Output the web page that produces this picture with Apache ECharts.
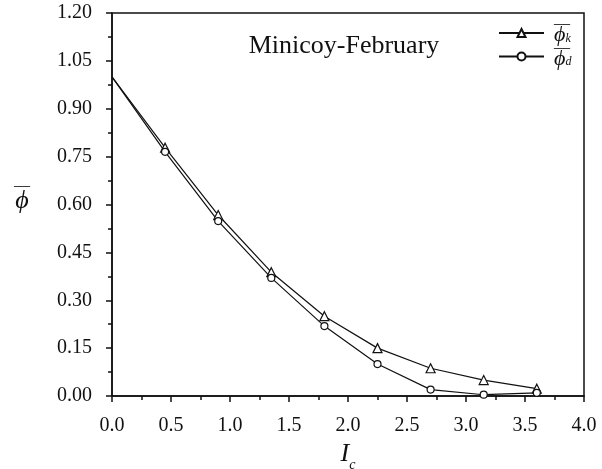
<!DOCTYPE html>
<html>
<head>
<meta charset="utf-8">
<script src="https://cdn.jsdelivr.net/npm/echarts@6/dist/echarts.min.js"></script>
<style>
  html, body { margin: 0; padding: 0; background: #fff; }
  #chart { width: 602px; height: 469px; }
</style>
</head>
<body>
<div id="chart"></div>
<script>
// Ic 取值点与两条曲线
const icValues = [0, 0.45, 0.9, 1.35, 1.8, 2.25, 2.7, 3.15, 3.6];
const phiK = [1.0, 0.778, 0.567, 0.388, 0.25, 0.15, 0.087, 0.05, 0.023];
const phiD = [1.0, 0.765, 0.548, 0.37, 0.219, 0.1, 0.02, 0.004, 0.01];
const chartTitle = "Minicoy-February";

const serif = "Liberation Serif";
const ink = "#111";
const chart = echarts.init(document.getElementById("chart"));

// 第一个点 (Ic=0) 不画标记
const pairs = arr => icValues.map((x, i) => i === 0 ? { value: [x, arr[i]], symbol: "none" } : [x, arr[i]]);

const option = {
  animation: false,
  title: {
    text: chartTitle,
    left: 339, top: 28, textAlign: "center",
    textStyle: { fontFamily: serif, fontSize: 26, fontWeight: "normal", color: ink }
  },
  legend: {
    right: 23, top: 11, orient: "vertical",
    itemWidth: 45, itemHeight: 10, itemGap: -7,
    data: ["k", "d"],
    formatter: n => "{o|\u2014 }\n{p|\u03d5}{s|" + n + "}",
    textStyle: {
      color: ink,
      rich: {
        o: { fontFamily: serif, fontSize: 16, color: ink, lineHeight: 5, padding: [0, 0, 0, 5] },
        p: { fontFamily: serif, fontStyle: "italic", fontSize: 22, color: ink, lineHeight: 18, padding: [0, 0, 0, 5] },
        s: { fontFamily: serif, fontStyle: "italic", fontSize: 12, color: ink, lineHeight: 10, verticalAlign: "bottom", padding: [8, 0, 0, 0] }
      }
    }
  },
  grid: { left: 112, right: 18, top: 13, bottom: 73, outerBoundsMode: "none",
          show: true, borderColor: ink, borderWidth: 1.5 },
  xAxis: {
    type: "value", min: 0, max: 4, interval: 0.5,
    name: "{i|I}{s|c}", nameLocation: "middle", nameGap: 32,
    nameTextStyle: {
      rich: {
        i: { fontFamily: serif, fontStyle: "italic", fontSize: 26, color: ink },
        s: { fontFamily: serif, fontStyle: "italic", fontSize: 14, color: ink, padding: [22, 0, 0, 0] }
      }
    },
    axisLine: { lineStyle: { color: ink, width: 1.5 } },
    axisTick: { inside: false, length: 6, lineStyle: { color: ink, width: 1.5 } },
    minorTick: { show: true, splitNumber: 2, length: 4, lineStyle: { color: ink, width: 1.5 } },
    axisLabel: { fontFamily: serif, fontSize: 20, color: ink, margin: 20, formatter: v => v.toFixed(1) },
    splitLine: { show: false }
  },
  yAxis: {
    type: "value", min: 0, max: 1.2, interval: 0.15,
    name: "{o|\u2014}\n{p|\u03d5}", nameLocation: "middle", nameGap: 82, nameRotate: 0,
    nameTextStyle: {
      padding: [0, 0, 14, 0],
      rich: {
        o: { fontFamily: serif, fontSize: 16, color: ink, lineHeight: 8, align: "center" },
        p: { fontFamily: serif, fontStyle: "italic", fontSize: 26, color: ink, lineHeight: 24, align: "center" }
      }
    },
    axisLine: { lineStyle: { color: ink, width: 1.5 } },
    axisTick: { inside: false, length: 6, lineStyle: { color: ink, width: 1.5 } },
    minorTick: { show: true, splitNumber: 2, length: 4, lineStyle: { color: ink, width: 1.5 } },
    axisLabel: { fontFamily: serif, fontSize: 20, color: ink, margin: 20, formatter: v => v.toFixed(2) },
    splitLine: { show: false }
  },
  series: [
    {
      name: "k", type: "line", data: pairs(phiK),
      symbol: "triangle", symbolSize: 9,
      lineStyle: { color: ink, width: 1.2 },
      itemStyle: { color: "#fff", borderColor: ink, borderWidth: 1.2 }
    },
    {
      name: "d", type: "line", data: pairs(phiD),
      symbol: "circle", symbolSize: 7,
      lineStyle: { color: ink, width: 1.2 },
      itemStyle: { color: "#fff", borderColor: ink, borderWidth: 1.2 }
    }
  ]
};
chart.setOption(option);
</script>
</body>
</html>
